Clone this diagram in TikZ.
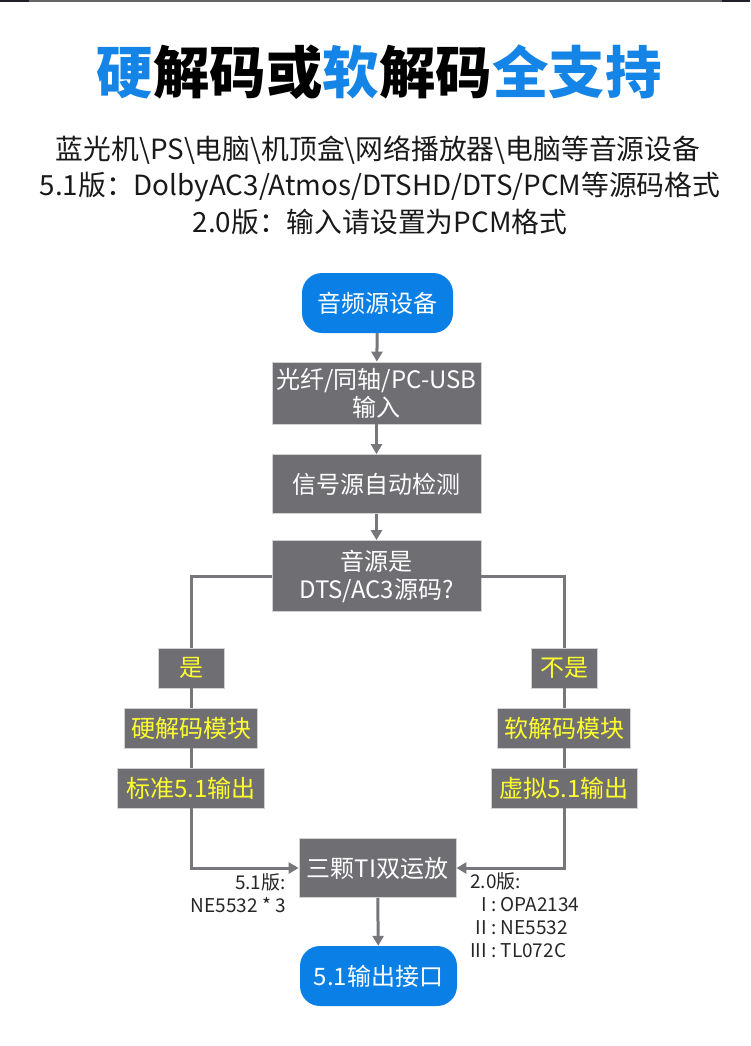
\documentclass[tikz,border=0pt]{standalone}
\usepackage{fontspec}
\setmainfont{Noto Sans CJK SC}
\usetikzlibrary{arrows.meta,positioning}
\definecolor{flowblue}{HTML}{0A80E6}
\definecolor{titleblue}{HTML}{1485E6}
\definecolor{flowgray}{HTML}{6E6E73}
\definecolor{flowline}{HTML}{76767B}
\definecolor{flowyellow}{HTML}{FFFF2E}
\definecolor{edgegray}{HTML}{202028}

\begin{document}
\begin{tikzpicture}[
  x=1pt, y=-1pt,
  font=\fontsize{24}{28}\selectfont,
  terminal/.style={fill=flowblue, text=white, rounded corners=20pt,
                   minimum width=151pt, minimum height=60pt, align=center},
  procbox/.style={fill=flowgray, draw=gray!35, line width=0.8pt, text=white,
                  minimum width=209pt, inner sep=0pt, align=center},
  branchbox/.style={fill=flowgray, draw=gray!35, line width=0.8pt, text=flowyellow,
                    minimum height=40pt, inner sep=0pt, align=center},
  arrow/.style={-{Triangle[length=10pt,width=11pt]}, draw=flowline, line width=3pt},
  link/.style={draw=flowline, line width=3pt},
  headline/.style={text=black!90, font=\fontsize{27.8}{30}\selectfont},
  note/.style={font=\fontsize{19}{23}\selectfont, text=black!85, inner sep=0pt}
]
  \useasboundingbox (0,0) rectangle (750,1046);
  % top rule
  \fill[edgegray] (0,0) rectangle (750,2.5);
  \fill[gray!80!black] (29,0) rectangle (722,2.5);

  % headline and source list
  \node (title) at (379,72) {\fontsize{56.5}{60}\selectfont\bfseries
    \textcolor{titleblue}{硬}解码或\textcolor{titleblue}{软}解码\textcolor{titleblue}{全支持}};
  \node[headline] (srcs) at (378,150)
    {蓝光机\textbackslash PS\textbackslash 电脑\textbackslash 机顶盒\textbackslash 网络播放器\textbackslash 电脑等音源设备};
  \node[headline] (fmt51) at (380,187)
    {5.1版：DolbyAC3/Atmos/DTSHD/DTS/PCM等源码格式};
  \node[headline] (fmt20) at (380,222)
    {2.0版：输入请设置为PCM格式};

  % main chain
  \node[terminal] (src) at (377.5,303) {音频源设备};
  \node[procbox, minimum height=62pt] (input) at (376.5,393) {光纤/同轴/PC-USB\\输入};
  \node[procbox, minimum height=59pt] (detect) at (376.5,484) {信号源自动检测};
  \node[procbox, minimum height=71pt] (judge) at (376.5,576) {音源是\\DTS/AC3源码?};

  % branches
  \node[branchbox, minimum width=66pt] (yes) at (191,668) {是};
  \node[branchbox, minimum width=133pt] (hard) at (191,728) {硬解码模块};
  \node[branchbox, minimum width=147pt] (std) at (191,788) {标准5.1输出};
  \node[branchbox, minimum width=66pt] (no) at (564,668) {不是};
  \node[branchbox, minimum width=133pt] (soft) at (564,728) {软解码模块};
  \node[branchbox, minimum width=146pt] (virt) at (564,788) {虚拟5.1输出};

  \node[procbox, minimum width=157pt, minimum height=59pt] (amp) at (377.5,868) {三颗TI双运放};
  \node[terminal, minimum width=157pt] (out) at (378.5,976) {5.1输出接口};

  % op-amp notes
  \node[note, anchor=north east, align=right] (note51) at (286,873) {5.1版:\\NE5532 * 3};
  \node[note, anchor=north west] (note20) at (470,872)
    {\begin{tabular}{@{}r@{\ :\ }l@{}}
       \multicolumn{2}{@{}l}{2.0版:}\\
       I & OPA2134\\
       II & NE5532\\
       III & TL072C
     \end{tabular}};

  % connectors
  \draw[arrow] (src) -- (input);
  \draw[arrow] (input) -- (detect);
  \draw[arrow] (detect) -- (judge);
  \draw[link] (judge.west) -| (yes.north);
  \draw[link] (judge.east) -| (no.north);
  \draw[link] (yes) -- (hard);
  \draw[link] (hard) -- (std);
  \draw[link] (no) -- (soft);
  \draw[link] (soft) -- (virt);
  \draw[arrow] (std.south) |- (amp.west);
  \draw[arrow] (virt.south) |- (amp.east);
  \draw[arrow] (amp) -- (out);
\end{tikzpicture}
\end{document}
